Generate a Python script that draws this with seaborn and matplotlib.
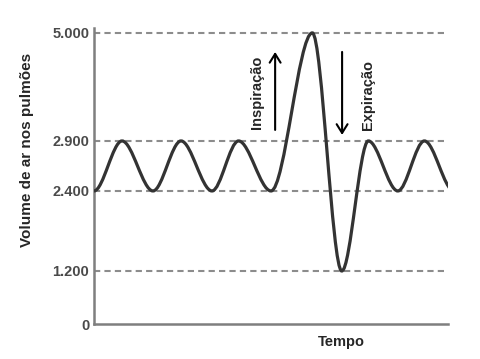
import numpy as np
import matplotlib
matplotlib.use("Agg")
import matplotlib.pyplot as plt
from matplotlib.path import Path
from matplotlib.patches import PathPatch
import seaborn as sns

# extremos da curva (tempo em unidades arbitrarias, volume em mL)
tempo = [0, 0.95, 2.0, 2.95, 4.0, 4.9, 6.0, 7.4, 8.4, 9.3, 10.3, 11.2, 12.2]
volume = [2400, 2900, 2400, 2900, 2400, 2900, 2400, 5000, 1200, 2900, 2400, 2900, 2400]

# niveis de referencia e rotulos do eixo y
niveis = [0, 1200, 2400, 2900, 5000]
rotulos = ["0", "1.200", "2.400", "2.900", "5.000"]

# o eixo y do original nao e linear: valor -> altura (px)
escala_val = [0, 1200, 2400, 2900, 5000, 6000]
escala_px = [0, 53, 133, 183, 291, 340]

sns.set_style("white")
plt.rcParams["font.family"] = ["Liberation Sans", "DejaVu Sans"]

fig = plt.figure(figsize=(4.81, 3.59), dpi=100)
ax = fig.add_axes([94 / 481, 35 / 359, 354 / 481, 296 / 359])


def fwd(v):
    return np.interp(v, escala_val, escala_px)


def inv(p):
    return np.interp(p, escala_px, escala_val)


ax.set_yscale("function", functions=(fwd, inv))
ax.set_xlim(0, 12)
ax.set_ylim(0, 5100)

# linhas tracejadas de referencia
for v in niveis[1:]:
    ax.axhline(v, color="#8c8c8c", lw=1.5, ls=(0, (3, 2)), zorder=1)

# curva suave passando pelos extremos (bezier com tangente horizontal)
verts = [(tempo[0], volume[0])]
codes = [Path.MOVETO]
for i in range(1, len(tempo)):
    dt = tempo[i] - tempo[i - 1]
    verts += [(tempo[i - 1] + dt / 3, volume[i - 1]),
              (tempo[i] - dt / 3, volume[i]),
              (tempo[i], volume[i])]
    codes += [Path.CURVE4] * 3
ax.add_patch(PathPatch(Path(verts, codes), fill=False, ec="#333333", lw=2.3, zorder=3))

# eixos
sns.despine(ax=ax)
for s in ["left", "bottom"]:
    ax.spines[s].set_color("#7f7f7f")
    ax.spines[s].set_linewidth(1.8)
ax.set_xticks([])
ax.set_yticks(niveis, rotulos)
ax.tick_params(axis="y", direction="in", length=5, width=1.2, color="#7f7f7f",
               labelsize=10.5, labelcolor="#4a4a4a")
for lbl in ax.get_yticklabels():
    lbl.set_fontweight("bold")

ax.set_xlabel("Tempo", fontsize=10.5, fontweight="bold")
ax.xaxis.set_label_coords(0.70, -0.037)
ax.set_ylabel("Volume de ar nos pulmões", fontsize=11, fontweight="bold")
ax.yaxis.set_label_coords(-0.17, 0.588)

# setas e textos
seta = dict(arrowstyle="->,head_length=0.45,head_width=0.28", color="black", lw=1.5,
            mutation_scale=14, shrinkA=0, shrinkB=0)
ax.annotate("", xy=(6.14, 4630), xytext=(6.14, 3114), arrowprops=seta)
ax.annotate("", xy=(8.41, 3017), xytext=(8.41, 4630), arrowprops=seta)
ax.text(5.53, 3853, "Inspiração", rotation=90, ha="center", va="center",
        fontsize=10.5, fontweight="bold")
ax.text(9.29, 3794, "Expiração", rotation=90, ha="center", va="center",
        fontsize=10.5, fontweight="bold")

fig.savefig("out.png", dpi=100)
